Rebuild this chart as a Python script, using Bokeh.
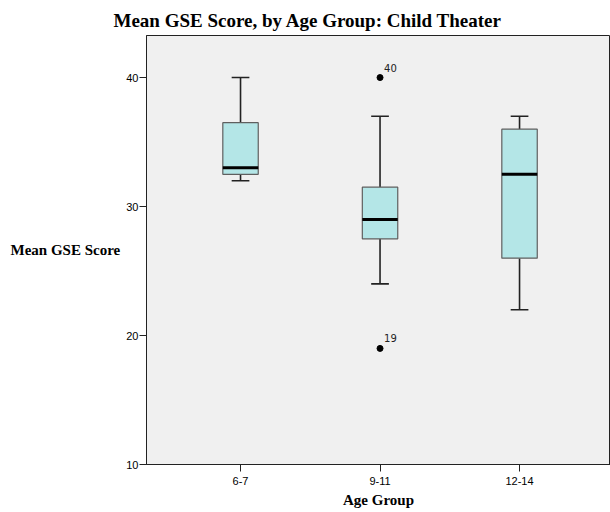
from bokeh.plotting import figure
from bokeh.models import ColumnDataSource, Range1d, FixedTicker, Title
from bokeh.embed import file_html
from bokeh.resources import INLINE
from bokeh.core.properties import value

# ---- data ----
groups = ["6-7", "9-11", "12-14"]
whisker_low = [32, 24, 22]
q1 = [32.5, 27.5, 26]
median = [33, 29, 32.5]
q3 = [36.5, 31.5, 36]
whisker_high = [40, 37, 37]
outlier_group = [1, 1]
outlier_value = [40, 19]
outlier_label = ["40", "19"]
y_ticks = [10, 20, 30, 40]

pos = list(range(len(groups)))
box_w = 0.254
cap_w = 0.127

src = ColumnDataSource(dict(
    x=pos,
    lo=whisker_low, q1=q1, med=median, q3=q3, hi=whisker_high,
    bx0=[p - box_w / 2 for p in pos], bx1=[p + box_w / 2 for p in pos],
    cx0=[p - cap_w / 2 for p in pos], cx1=[p + cap_w / 2 for p in pos],
))
osrc = ColumnDataSource(dict(x=outlier_group, y=outlier_value, t=outlier_label))

p = figure(frame_width=464, frame_height=429,
           x_range=Range1d(-0.674, 2.652), y_range=Range1d(10, 43.26),
           output_backend="svg", toolbar_location=None,
           min_border_left=146, min_border_right=0, min_border_top=35, min_border_bottom=5,
           background_fill_color="white", border_fill_color="white")
p.background_fill_color = "#f0f0f0"
p.outline_line_color = "#222222"
p.outline_line_width = 1
p.xgrid.visible = False
p.ygrid.visible = False

p.title = Title(text="Mean GSE Score, by Age Group: Child Theater", align="left",
                text_font="Liberation Serif", text_font_size="19px", text_font_style="bold",
                text_color="black", offset=-33, standoff=10)

# whiskers
p.segment(x0="x", y0="q3", x1="x", y1="hi", source=src, line_color="#222222", line_width=1.6)
p.segment(x0="x", y0="q1", x1="x", y1="lo", source=src, line_color="#222222", line_width=1.6)
p.segment(x0="cx0", y0="hi", x1="cx1", y1="hi", source=src, line_color="#222222", line_width=1.6)
p.segment(x0="cx0", y0="lo", x1="cx1", y1="lo", source=src, line_color="#222222", line_width=1.6)
# boxes
p.vbar(x="x", width=box_w, bottom="q1", top="q3", source=src,
       fill_color="#b4e6e7", line_color="#5f5f5f", line_width=1.2)
# medians
p.segment(x0="bx0", y0="med", x1="bx1", y1="med", source=src, line_color="black", line_width=3)
# outliers
p.scatter(x="x", y="y", source=osrc, size=6, fill_color="black", line_color="black")
p.text(x="x", y="y", text="t", source=osrc, x_offset=4, y_offset=-6,
       text_font=value("DejaVu Sans"), text_font_size="10px", text_color="#222222",
       text_baseline="bottom", text_align="left")

# axes
p.xaxis.ticker = FixedTicker(ticks=pos)
p.xaxis.major_label_overrides = {i: g for i, g in zip(pos, groups)}
p.yaxis.ticker = FixedTicker(ticks=y_ticks)
for ax in (p.xaxis[0], p.yaxis[0]):
    ax.minor_tick_line_color = None
    ax.major_tick_in = 0
    ax.major_tick_out = 7
    ax.axis_line_color = "#222222"
    ax.major_tick_line_color = "#222222"
    ax.major_label_text_font = "Liberation Sans"
    ax.major_label_text_font_size = "11px"
    ax.major_label_text_color = "black"
    ax.axis_label_text_font = "Liberation Serif"
    ax.axis_label_text_font_style = "bold"
    ax.axis_label_text_color = "black"
p.xaxis.axis_label = "Age Group"
p.xaxis.axis_label_text_font_size = "15px"
p.xaxis.major_label_standoff = 5
p.xaxis.axis_label_standoff = 4
p.yaxis.axis_label = "Mean GSE Score"
p.yaxis.axis_label_text_font_size = "15px"
p.yaxis.axis_label_orientation = "horizontal"
p.yaxis.major_label_standoff = 1
p.yaxis.axis_label_standoff = 3

open("out.html", "w").write(file_html(p, INLINE))
